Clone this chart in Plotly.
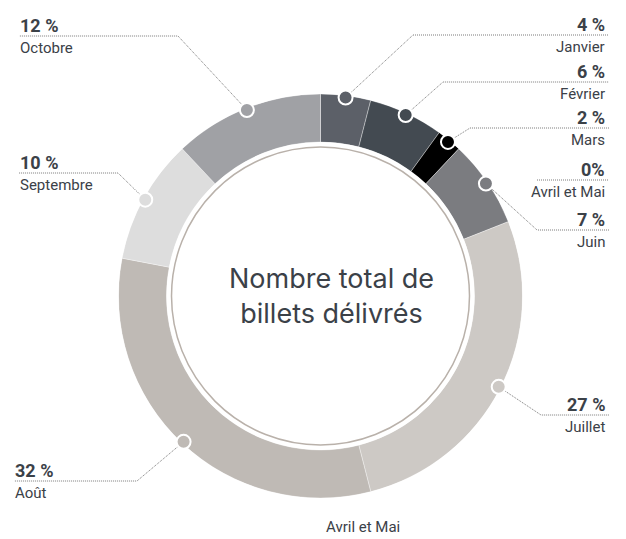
import math
import plotly.graph_objects as go

# ---- data ----
months = ["Janvier", "Février", "Mars", "Avril et Mai", "Juin", "Juillet", "Août", "Septembre", "Octobre"]
shares = [4, 6, 2, 0, 7, 27, 32, 10, 12]
pct_labels = ["4 %", "6 %", "2 %", "0%", "7 %", "27 %", "32 %", "10 %", "12 %"]
center_title = "Nombre total de<br>billets délivrés"
stray_label = "Avril et Mai"

# ---- styles / layout ----
colors = ["#5c6068", "#434a51", "#000000", "#9a9a9a", "#7b7c80", "#cdc9c5", "#bfbab5", "#dddddd", "#a0a1a5"]
PAGE_W, PAGE_H = 626, 539
OFF = 8                      # default body margin of the page
W, H = PAGE_W - OFF, PAGE_H - OFF
CX, CY, R = 320.5, 296.0, 202.0
R_IN = 154.0
DOT_R = 200.0
TXT = "#3b4148"
LINE = "#7a7a7a"
FONT = "Roboto, Arial, sans-serif"

# label placement: side, line y, elbow (x,y) or None, line outer x, text x
label_pos = {
    "Janvier":      ("right", 35, (413, 35), 609, 607),
    "Février":      ("right", 82, (443, 82), 609, 607),
    "Mars":         ("right", 128, (470, 128), 609, 607),
    "Avril et Mai": ("right", 180, None, 609, 607),
    "Juin":         ("right", 230, (537, 230), 609, 607),
    "Juillet":      ("right", 415, (541, 415), 609, 607),
    "Août":         ("left", 481, (137, 481), 14, 13),
    "Septembre":    ("left", 173, (118, 173), 19, 18),
    "Octobre":      ("left", 36, (178, 36), 19, 18),
}

total = sum(shares)
mids, widths = [], []
cum = 0
for v in shares:
    mids.append((cum + v / 2) / total * 360)
    widths.append(v / total * 360)
    cum += v

dom_x = [(CX - R - OFF) / W, (CX + R - OFF) / W]
dom_y = [(PAGE_H - (CY + R)) / H, (PAGE_H - (CY - R)) / H]

fig = go.Figure()

# leader lines (cartesian, pixel-like axes) — drawn below the polar ring
dots_px = {}
for m, v, a in zip(months, shares, mids):
    if v > 0:
        t = math.radians(a)
        dots_px[m] = (CX + DOT_R * math.sin(t), CY - DOT_R * math.cos(t))

annotations = []
for m, p in zip(months, pct_labels):
    side, ly, elbow, ox, tx = label_pos[m]
    if m in dots_px:
        xs = [dots_px[m][0], elbow[0], ox]
        ys = [dots_px[m][1], elbow[1], ly]
    else:
        xs = [537, ox]
        ys = [ly, ly]
    fig.add_trace(go.Scatter(x=xs, y=ys, mode="lines", hoverinfo="skip", showlegend=False,
                             line=dict(color=LINE, width=1, dash="1px,1px")))
    anchor = "right" if side == "right" else "left"
    annotations.append(dict(x=tx, y=ly + 2, xref="x", yref="y", text="<b>" + p + "</b>", showarrow=False,
                            xanchor=anchor, yanchor="bottom", font=dict(family=FONT, size=18, color=TXT)))
    annotations.append(dict(x=tx, y=ly + 1, xref="x", yref="y", text=m, showarrow=False,
                            xanchor=anchor, yanchor="top", font=dict(family=FONT, size=15, color=TXT)))

# ring
fig.add_trace(go.Barpolar(
    r=[1] * len(shares), theta=mids, width=widths, base=0,
    marker=dict(color=colors, line=dict(color="rgba(255,255,255,0.6)", width=0.6)),
    hovertext=months, hoverinfo="text", showlegend=False,
))

# dots on the ring
dot_idx = [i for i, v in enumerate(shares) if v > 0]
fig.add_trace(go.Scatterpolar(
    r=[(DOT_R - R_IN) / (R - R_IN)] * len(dot_idx), theta=[mids[i] for i in dot_idx], mode="markers",
    hoverinfo="skip", showlegend=False,
    marker=dict(size=14, color=[colors[i] for i in dot_idx], line=dict(color="white", width=2)),
))

annotations.append(dict(x=331, y=CY, xref="x", yref="y", text=center_title, showarrow=False,
                        font=dict(family="Inter, sans-serif", size=27, color=TXT)))
annotations.append(dict(x=363, y=527, xref="x", yref="y", text=stray_label, showarrow=False,
                        font=dict(family=FONT, size=15, color=TXT)))

fig.update_layout(
    width=W, height=H, margin=dict(l=0, r=0, t=0, b=0),
    paper_bgcolor="white", plot_bgcolor="rgba(0,0,0,0)",
    xaxis=dict(range=[OFF, PAGE_W], visible=False, fixedrange=True),
    yaxis=dict(range=[PAGE_H, OFF], visible=False, fixedrange=True),
    polar=dict(
        domain=dict(x=dom_x, y=dom_y), hole=R_IN / R, bgcolor="rgba(0,0,0,0)",
        radialaxis=dict(range=[0, 1], visible=False),
        angularaxis=dict(rotation=90, direction="clockwise", visible=False),
        barmode="overlay", bargap=0,
    ),
    shapes=[dict(type="circle", xref="x", yref="y", x0=CX - 149, x1=CX + 149, y0=CY - 149, y1=CY + 149,
                 line=dict(color="#b9b1aa", width=1.5), layer="above")],
    annotations=annotations,
)

fig.write_html("out.html")
